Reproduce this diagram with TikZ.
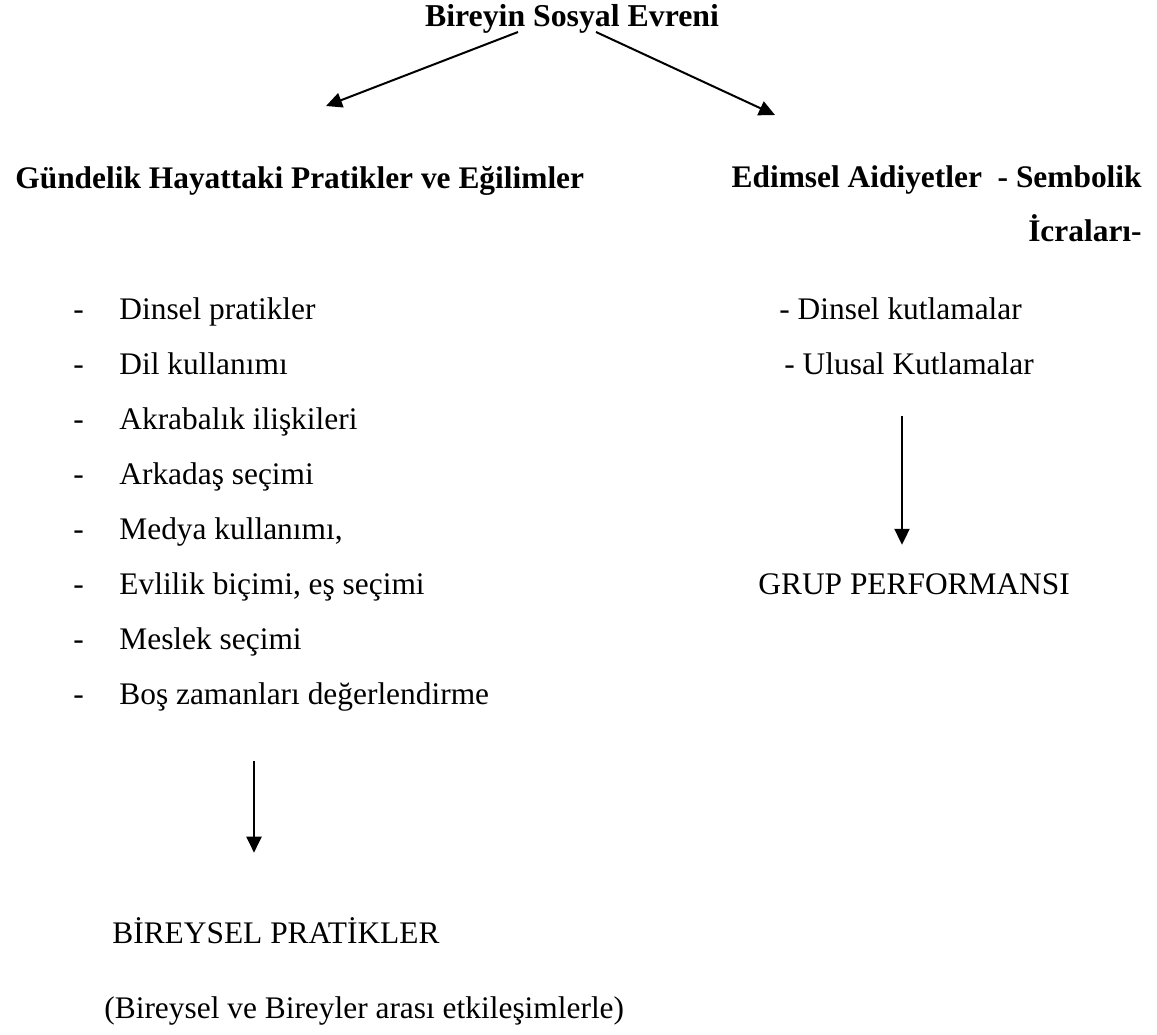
\documentclass[tikz,border=0pt]{standalone}
\usepackage{fontspec}
\setmainfont{Liberation Serif}
\usetikzlibrary{arrows.meta,calc,positioning}

\begin{document}
\begin{tikzpicture}[x=0.5pt,y=-0.5pt,
  txt/.style={inner sep=0pt,anchor=base west,font=\fontsize{15.7}{18}\selectfont},
  head/.style={txt,font=\fontsize{15.7}{18}\selectfont\bfseries},
  pil/.style={-{Triangle[length=8pt,width=7.5pt]},line width=1pt}]
\useasboundingbox (0,0) rectangle (1157,1034);

% title and the two branches
\node[head,anchor=base,font=\fontsize{15.9}{18}\selectfont\bfseries] (title) at (572,26) {Bireyin Sosyal Evreni};
\coordinate (lt) at (326,106);
\coordinate (rt) at (775,115);
\draw[pil] ($(title.base)+(-54,6)$) -- (lt);
\draw[pil] ($(title.base)+(24,6)$) -- (rt);

\node[head] (gund) at (15,188) {Gündelik Hayattaki Pratikler ve Eğilimler};
\node[head,anchor=base east] (edim) at (1142,187) {Edimsel Aidiyetler\ \ - Sembolik};
\node[head,anchor=base east] (icra) at (1142,241) {İcraları-};

% left list
\node[txt] at (73,319) {-};
\node[txt] (l1) at (119,319) {Dinsel pratikler};
\node[txt] at (73,374) {-};
\node[txt] (l2) at (119,374) {Dil kullanımı};
\node[txt] at (73,429) {-};
\node[txt] (l3) at (119,429) {Akrabalık ilişkileri};
\node[txt] at (73,484) {-};
\node[txt] (l4) at (119,484) {Arkadaş seçimi};
\node[txt] at (73,539) {-};
\node[txt] (l5) at (119,539) {Medya kullanımı,};
\node[txt] at (73,594) {-};
\node[txt] (l6) at (119,594) {Evlilik biçimi, eş seçimi};
\node[txt] at (73,649) {-};
\node[txt] (l7) at (119,649) {Meslek seçimi};
\node[txt] at (73,704) {-};
\node[txt] (l8) at (119,704) {Boş zamanları değerlendirme};

% right list
\node[txt] (r1) at (779,319) {- Dinsel kutlamalar};
\node[txt] (r2) at (784,374) {- Ulusal Kutlamalar};

\node[txt] (grup) at (758,594) {GRUP PERFORMANSI};
\coordinate (rs) at (902,416);
\draw[pil,shorten >=14pt] (rs) -- (rs |- grup.north);

\node[txt] (birey) at (112,943) {BİREYSEL PRATİKLER};
\node[txt] (etki) at (104,1018) {(Bireysel ve Bireyler arası etkileşimlerle)};
\coordinate (ls) at (254,761);
\draw[pil,shorten >=32pt] (ls) -- (ls |- birey.north);

\end{tikzpicture}
\end{document}
